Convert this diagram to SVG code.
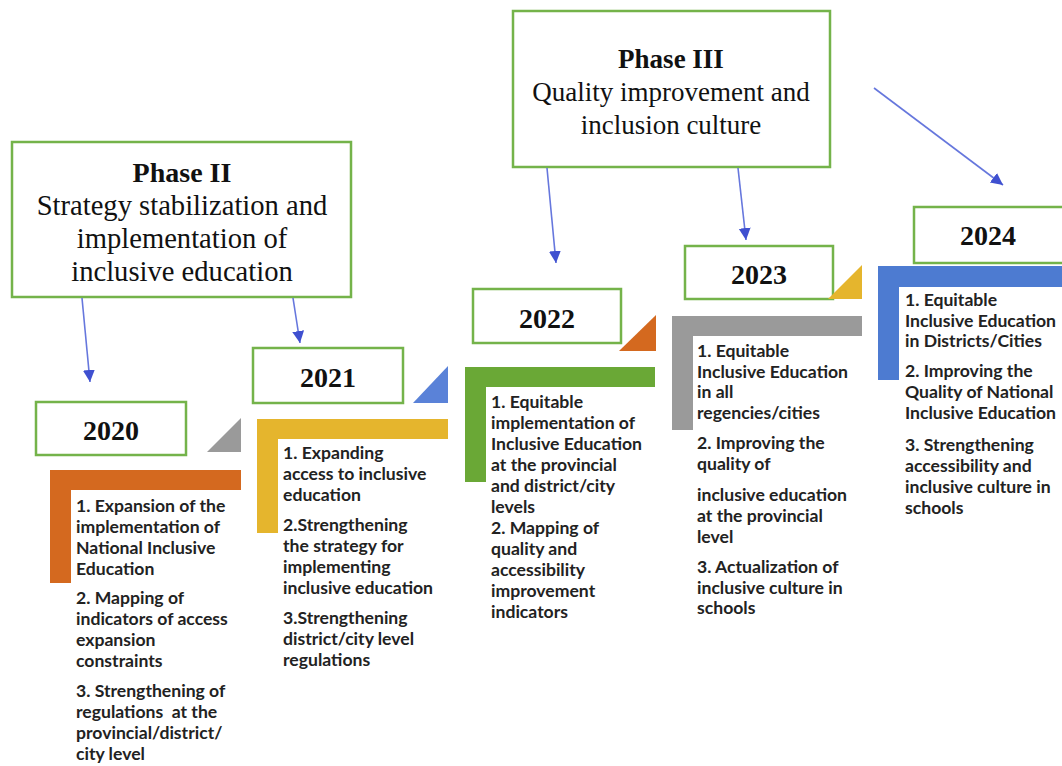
<svg xmlns="http://www.w3.org/2000/svg" width="1062" height="766" viewBox="0 0 1062 766">
<defs>
<marker id="ah" markerUnits="userSpaceOnUse" markerWidth="14" markerHeight="14" refX="12" refY="6" orient="auto">
<path d="M0,0 L12,6 L0,12 Z" fill="#3f50d0"/>
</marker>
<style>
.box{fill:#fff;stroke:#74b34a;stroke-width:2.5}
.ph{font-family:"Liberation Serif","Times New Roman",serif;fill:#111;text-anchor:middle}
.yr{font-family:"Liberation Serif","Times New Roman",serif;font-weight:bold;font-size:28px;fill:#111;text-anchor:middle}
.li{font-family:Lato,"Liberation Sans",sans-serif;font-weight:bold;font-size:17.6px;fill:#222}
.con{stroke:#6677dd;stroke-width:1.6;fill:none;marker-end:url(#ah)}
</style>
</defs>
<rect width="1062" height="766" fill="#fff"/>

<g id="phase2">
<rect class="box" x="12" y="142" width="339" height="155"/>
<text class="ph" x="182" y="182" font-size="28" font-weight="bold">Phase II</text>
<text class="ph" x="182" y="215" font-size="28.6">Strategy stabilization and</text>
<text class="ph" x="182" y="248" font-size="28.6">implementation of</text>
<text class="ph" x="182" y="281" font-size="28.6">inclusive education</text>
</g>

<g id="phase3">
<rect class="box" x="513" y="11" width="317" height="156"/>
<text class="ph" x="671" y="68" font-size="27" font-weight="bold">Phase III</text>
<text class="ph" x="671" y="101" font-size="27">Quality improvement and</text>
<text class="ph" x="671" y="134" font-size="27">inclusion culture</text>
</g>

<g id="connectors">
<line class="con" x1="82" y1="298" x2="90" y2="382"/>
<line class="con" x1="293" y1="298" x2="300" y2="343"/>
<line class="con" x1="547" y1="168" x2="556" y2="263"/>
<line class="con" x1="738" y1="168" x2="746" y2="240"/>
<line class="con" x1="874" y1="88" x2="1003" y2="185"/>
</g>

<g id="y2020">
<rect class="box" x="36" y="402" width="150" height="53"/>
<text class="yr" x="111" y="440">2020</text>
<polygon points="207,452 241,418 241,452" fill="#9a9a9a"/>
<path d="M50,470 H241 V490 H71 V583 H50 Z" fill="#d4691f"/>
<text class="li" x="76" y="512">1. Expansion of the</text>
<text class="li" x="76" y="533">implementation of</text>
<text class="li" x="76" y="554">National Inclusive</text>
<text class="li" x="76" y="575">Education</text>
<text class="li" x="76" y="604">2. Mapping of</text>
<text class="li" x="76" y="625">indicators of access</text>
<text class="li" x="76" y="646">expansion</text>
<text class="li" x="76" y="667">constraints</text>
<text class="li" x="76" y="697">3. Strengthening of</text>
<text class="li" x="76" y="718" xml:space="preserve">regulations  at the</text>
<text class="li" x="76" y="739">provincial/district/</text>
<text class="li" x="76" y="760">city level</text>
</g>

<g id="y2021">
<rect class="box" x="253" y="348" width="150" height="55"/>
<text class="yr" x="328" y="387">2021</text>
<polygon points="413,403 448,366 448,403" fill="#5a82d8"/>
<path d="M257,419 H448 V439 H278 V533 H257 Z" fill="#e5b52d"/>
<text class="li" x="283" y="459">1. Expanding</text>
<text class="li" x="283" y="480">access to inclusive</text>
<text class="li" x="283" y="501">education</text>
<text class="li" x="283" y="531">2.Strengthening</text>
<text class="li" x="283" y="552">the strategy for</text>
<text class="li" x="283" y="573">implementing</text>
<text class="li" x="283" y="594">inclusive education</text>
<text class="li" x="283" y="624">3.Strengthening</text>
<text class="li" x="283" y="645">district/city level</text>
<text class="li" x="283" y="666">regulations</text>
</g>

<g id="y2022">
<rect class="box" x="473" y="289" width="148" height="54"/>
<text class="yr" x="547" y="328">2022</text>
<polygon points="619,351 656,315 656,351" fill="#d4691f"/>
<path d="M465,367 H655 V387 H486 V482 H465 Z" fill="#6aa836"/>
<text class="li" x="491" y="408">1. Equitable</text>
<text class="li" x="491" y="429">implementation of</text>
<text class="li" x="491" y="450">Inclusive Education</text>
<text class="li" x="491" y="471">at the provincial</text>
<text class="li" x="491" y="492">and district/city</text>
<text class="li" x="491" y="513">levels</text>
<text class="li" x="491" y="534">2. Mapping of</text>
<text class="li" x="491" y="555">quality and</text>
<text class="li" x="491" y="576">accessibility</text>
<text class="li" x="491" y="597">improvement</text>
<text class="li" x="491" y="618">indicators</text>
</g>

<g id="y2023">
<rect class="box" x="685" y="246" width="148" height="53"/>
<text class="yr" x="759" y="284">2023</text>
<polygon points="828,299 862,265 862,299" fill="#e5b52d"/>
<path d="M672,316 H862 V336 H693 V430 H672 Z" fill="#9a9a9a"/>
<text class="li" x="697" y="357">1. Equitable</text>
<text class="li" x="697" y="378">Inclusive Education</text>
<text class="li" x="697" y="398">in all</text>
<text class="li" x="697" y="419">regencies/cities</text>
<text class="li" x="697" y="449">2. Improving the</text>
<text class="li" x="697" y="470">quality of</text>
<text class="li" x="697" y="501">inclusive education</text>
<text class="li" x="697" y="522">at the provincial</text>
<text class="li" x="697" y="543">level</text>
<text class="li" x="697" y="573">3. Actualization of</text>
<text class="li" x="697" y="594">inclusive culture in</text>
<text class="li" x="697" y="614">schools</text>
</g>

<g id="y2024">
<rect class="box" x="914" y="207" width="152" height="56"/>
<text class="yr" x="988" y="245">2024</text>
<path d="M878,266 H1066 V287 H899 V380 H878 Z" fill="#4d7bd1"/>
<text class="li" x="905" y="306">1. Equitable</text>
<text class="li" x="905" y="327">Inclusive Education</text>
<text class="li" x="905" y="347">in Districts/Cities</text>
<text class="li" x="905" y="377">2. Improving the</text>
<text class="li" x="905" y="398">Quality of National</text>
<text class="li" x="905" y="419">Inclusive Education</text>
<text class="li" x="905" y="451">3. Strengthening</text>
<text class="li" x="905" y="472">accessibility and</text>
<text class="li" x="905" y="493">inclusive culture in</text>
<text class="li" x="905" y="514">schools</text>
</g>
</svg>
